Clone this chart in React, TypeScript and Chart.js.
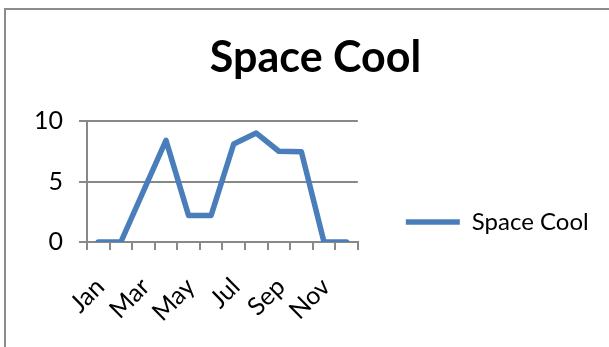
import React, { useEffect, useRef } from 'react';
import { Chart, registerables } from 'chart.js';

Chart.register(...registerables);

const months = ['Jan', 'Feb', 'Mar', 'Apr', 'May', 'Jun', 'Jul', 'Aug', 'Sep', 'Oct', 'Nov', 'Dec'];
const spaceCool = [0, 0, 4.2, 8.4, 2.2, 2.2, 8.1, 9.0, 7.5, 7.45, 0, 0];
const yTicks = [0, 5, 10];
const seriesName = 'Space Cool';
const chartTitle = 'Space Cool';

const FONT = 'Lato';
const GRAY = '#888888';

export default function App() {
  const ref = useRef<HTMLCanvasElement>(null);
  useEffect(() => {
    const chart = new Chart(ref.current as HTMLCanvasElement, {
      type: 'line',
      data: {
        labels: months,
        datasets: [
          {
            label: seriesName,
            data: spaceCool,
            borderColor: '#4A7EBB',
            backgroundColor: '#4A7EBB',
            borderWidth: 5.5,
            borderCapStyle: 'round',
            borderJoinStyle: 'round',
            pointRadius: 0,
            tension: 0,
            fill: false,
          },
        ],
      },
      options: {
        responsive: false,
        animation: false,
        layout: { padding: { left: 32.3, right: 10.3, top: 0, bottom: 0 } },
        plugins: {
          title: {
            display: true,
            text: chartTitle,
            color: '#000',
            font: { family: FONT, size: 43, weight: 'bold', lineHeight: 1.2 },
            padding: { top: 32, bottom: 37.4 },
          },
          legend: {
            position: 'right',
            align: 'center',
            maxWidth: 320,
            title: { display: true, text: '', font: { size: 12, lineHeight: 1.2 }, padding: { top: 82.6, bottom: 0 } },
            labels: {
              usePointStyle: true,
              pointStyle: 'line',
              pointStyleWidth: 54,
              padding: 48,
              color: '#000',
              font: { family: FONT, size: 24 },
            },
          },
          tooltip: { enabled: false },
        },
        scales: {
          x: {
            type: 'category',
            offset: true,
            grid: { display: true, offset: true, drawOnChartArea: false, drawTicks: true, tickLength: 8, color: GRAY, lineWidth: 2 },
            border: { display: true, color: GRAY, width: 2 },
            ticks: {
              autoSkip: false,
              maxRotation: 45,
              minRotation: 45,
              padding: 22,
              labelOffset: 2,
              color: '#000',
              font: { family: FONT, size: 25 },
              callback: (_v: any, i: number) => (i % 2 === 0 ? months[i] : ''),
            },
            afterFit: (s: any) => {
              s.height = 105;
            },
          },
          y: {
            min: 0,
            max: 10,
            afterBuildTicks: (s: any) => {
              s.ticks = yTicks.map((v) => ({ value: v }));
            },
            ticks: { padding: 16, color: '#000', font: { family: FONT, size: 25 } },
            grid: { color: GRAY, lineWidth: 2, tickLength: 8 },
            border: { display: true, color: GRAY, width: 2 },
            afterFit: (s: any) => {
              s.width = 54.7;
            },
          },
        },
      },
    } as any);
    return () => chart.destroy();
  }, []);

  return (
    <>
      <div
        style={{
          position: 'fixed',
          left: 4,
          top: 8,
          right: 0,
          bottom: 0,
          borderLeft: '2.5px solid #8c8c8c',
          borderTop: '2px solid #8c8c8c',
          background: '#fff',
        }}
      />
      <canvas
        ref={ref}
        width={609}
        height={347}
        style={{ position: 'fixed', left: 0, top: 0, width: 609, height: 347 }}
      />
    </>
  );
}
